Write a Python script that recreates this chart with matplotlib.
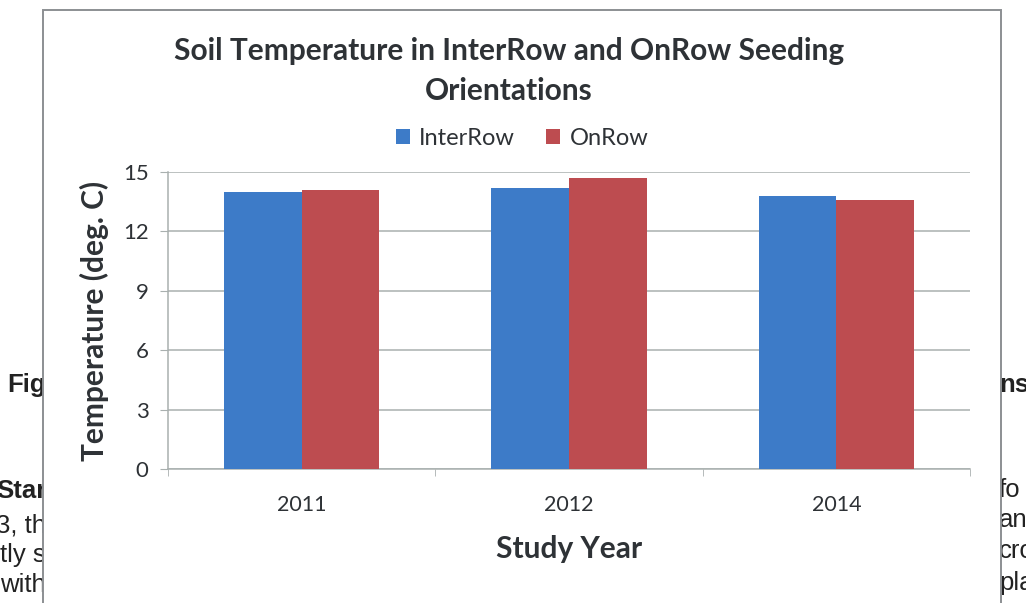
import matplotlib
matplotlib.use("Agg")
import matplotlib.pyplot as plt
import numpy as np
from matplotlib.patches import Rectangle

years = ["2011", "2012", "2014"]
interrow = [14.0, 14.2, 13.8]
onrow = [14.1, 14.7, 13.6]
y_ticks = [0, 3, 6, 9, 12, 15]

# page text peeking out around the chart box
left_snippets = [("Fig", 392, "bold"), ("Star", 498, "bold"), ("3, th", 532, "normal"),
                 ("tly s", 562, "normal"), ("with", 592, "normal")]
right_snippets = [("ns", 392, "bold"), ("fo", 497, "normal"), ("an", 527, "normal"),
                  ("cro", 558, "normal"), ("pla", 590, "normal")]

BLUE = "#3D7BC8"
RED = "#BD4C50"
TEXT = "#2E3236"
GRID = "#A9B0AF"
CHART_FONT = ["Lato", "DejaVu Sans"]

W, H = 1026, 603
fig = plt.figure(figsize=(W / 100, H / 100), dpi=100)
fig.patch.set_facecolor("white")


def fx(px):
    return px / W


def fy(py):
    return 1 - py / H


for txt, base, weight in left_snippets:
    fig.text(fx(46), fy(base), txt, ha="right", va="baseline", fontsize=18.5,
             fontweight=weight, family="Liberation Sans", color="#222222", zorder=-3)
for txt, base, weight in right_snippets:
    fig.text(fx(999), fy(base), txt, ha="left", va="baseline", fontsize=18.5,
             fontweight=weight, family="Liberation Sans", color="#222222", zorder=-3)

# chart box drawn over the page text
frame = Rectangle((fx(43), fy(640)), fx(1001) - fx(43), fy(10) - fy(640),
                  transform=fig.transFigure, facecolor="white", edgecolor="#8C8F93",
                  linewidth=1.4, zorder=-2)
fig.patches.append(frame)

ax = fig.add_axes([fx(168), fy(469), fx(970) - fx(168), fy(172) - fy(469)])
ax.set_facecolor("none")

x = np.arange(len(years))
w = 0.29
ax.bar(x - w / 2, interrow, width=w, color=BLUE, label="InterRow", zorder=3)
ax.bar(x + w / 2, onrow, width=w, color=RED, label="OnRow", zorder=3)

ax.set_xlim(-0.5, len(years) - 0.5)
ax.set_ylim(0, 15)
ax.set_yticks(y_ticks)
ax.set_yticklabels([str(t) for t in y_ticks], fontsize=16, color=TEXT, family=CHART_FONT)
ax.yaxis.grid(True, color=GRID, linewidth=1.1)
ax.set_axisbelow(True)

ax.set_xticks(x)
ax.set_xticklabels(years, fontsize=15.5, color=TEXT, family=CHART_FONT)
ax.tick_params(axis="x", length=0, pad=19)
ax.set_xticks(np.arange(-0.5, len(years), 1.0), minor=True)
ax.tick_params(axis="x", which="minor", length=5, color=GRID, direction="out")
ax.tick_params(axis="y", length=6, color=GRID, direction="out", pad=8)

for side in ("top", "right"):
    ax.spines[side].set_visible(False)
for side in ("left", "bottom"):
    ax.spines[side].set_color(GRID)
    ax.spines[side].set_linewidth(1.1)

ax.set_xlabel("Study Year", fontsize=21.5, fontweight="bold", color=TEXT,
              family=CHART_FONT, labelpad=14)
ax.set_ylabel("Temperature (deg. C)", fontsize=21.5, fontweight="bold", color=TEXT,
              family=CHART_FONT, labelpad=10)

fig.text(fx(509), fy(51), "Soil Temperature in InterRow and OnRow Seeding",
         ha="center", va="center", fontsize=21.5, fontweight="bold", color=TEXT,
         family=CHART_FONT)
fig.text(fx(509), fy(91), "Orientations", ha="center", va="center", fontsize=21.5,
         fontweight="bold", color=TEXT, family=CHART_FONT)

leg = ax.legend(loc="center", bbox_to_anchor=(fx(522), fy(138)),
                bbox_transform=fig.transFigure, ncol=2, frameon=False,
                handlelength=0.6, handleheight=0.6, handletextpad=0.4,
                columnspacing=1.3, prop={"family": CHART_FONT, "size": 17})
for t in leg.get_texts():
    t.set_color(TEXT)

fig.savefig("out.png", dpi=100, facecolor="white")
